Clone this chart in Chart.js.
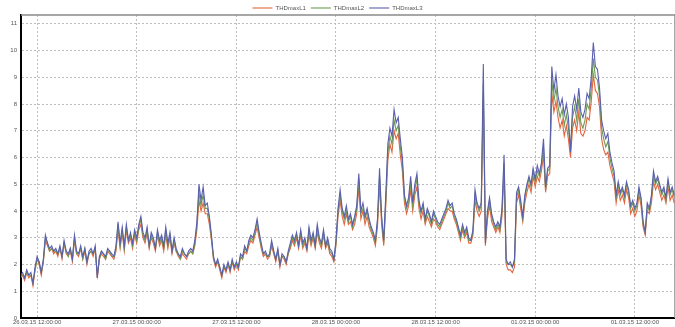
<!DOCTYPE html>
<html>
<head>
<meta charset="utf-8">
<script src="https://cdn.jsdelivr.net/npm/chart.js@4/dist/chart.umd.min.js"></script>
<style>
  html, body { margin: 0; padding: 0; background: #fff; }
  canvas { display: block; }
</style>
</head>
<body>
<canvas id="thd" width="675" height="327"></canvas>
<script>
// THD max per phase, sampled every 15 minutes from 26.03 10:00
const startHour = 10;
const stepHours = 0.25;

const thdL1 = [
  1.5,1.6,1.4,1.7,1.5,1.6,1.2,1.8,2.2,2.0,
  1.6,2.1,2.9,2.7,2.5,2.6,2.4,2.5,2.3,2.6,
  2.2,2.8,2.4,2.3,2.5,2.1,2.9,2.4,2.3,2.6,
  2.2,2.5,2.0,2.4,2.5,2.3,2.6,1.5,2.2,2.4,
  2.3,2.2,2.5,2.4,2.3,2.2,2.5,3.3,2.6,3.2,
  2.5,3.3,2.8,3.0,2.6,3.1,2.8,3.3,3.5,3.0,
  2.8,3.2,2.6,3.0,2.8,2.5,3.1,2.7,2.9,2.5,
  3.1,2.6,3.0,2.4,2.8,2.5,2.3,2.2,2.4,2.3,
  2.2,2.4,2.5,2.4,2.7,3.3,4.4,4.0,4.3,3.9,
  3.9,3.5,2.9,2.2,1.9,2.1,1.8,1.5,1.9,1.7,
  2.0,1.7,2.1,1.8,2.0,1.8,2.3,2.2,2.5,2.4,
  2.7,2.9,2.8,3.1,3.4,3.0,2.6,2.3,2.4,2.2,
  2.3,2.7,2.4,2.1,2.5,1.9,2.3,2.2,2.0,2.4,
  2.6,2.9,2.7,3.0,2.6,3.1,2.6,2.8,2.5,3.1,
  2.7,3.0,2.6,3.2,2.8,2.6,3.1,2.6,2.8,2.4,
  2.3,2.1,2.7,3.8,4.4,3.8,3.5,3.9,3.5,3.6,
  3.3,3.5,3.9,4.9,3.7,4.0,3.5,3.8,3.4,3.2,
  3.0,2.7,3.4,5.0,3.5,2.7,4.2,5.9,6.5,6.2,
  7.0,6.7,6.9,6.1,5.5,4.3,3.9,4.2,4.8,4.0,
  4.6,4.9,4.1,3.7,4.0,3.5,3.8,3.6,3.4,3.7,
  3.6,3.4,3.3,3.5,3.7,3.9,4.1,4.0,4.0,3.7,
  3.5,3.2,2.9,3.3,3.0,3.2,2.8,2.8,3.1,4.4,
  4.0,3.8,4.0,8.2,2.7,3.7,4.2,3.6,3.4,3.2,
  3.4,3.2,3.8,5.5,2.0,1.8,1.8,1.7,1.9,4.3,
  4.6,4.1,3.6,4.3,4.7,5.0,4.7,5.3,4.9,5.3,
  5.1,5.5,6.1,4.7,5.3,5.4,8.4,7.7,8.1,7.5,
  7.1,7.4,6.8,7.2,6.7,6.0,7.1,7.4,7.0,7.7,
  6.9,6.8,7.0,7.5,7.4,8.1,9.1,8.5,8.4,7.9,
  6.7,6.3,6.1,6.2,5.7,5.4,5.1,4.3,4.8,4.4,
  4.6,4.3,4.8,4.5,3.9,4.1,3.8,4.0,4.6,4.2,
  3.4,3.1,4.0,3.9,4.3,5.1,4.8,5.0,4.7,4.4,
  4.6,4.3,4.9,4.4,4.6,4.3
];

const thdL2 = [
  1.6,1.6,1.5,1.7,1.6,1.6,1.3,1.8,2.2,2.1,
  1.7,2.1,3.0,2.8,2.5,2.6,2.5,2.5,2.4,2.6,
  2.3,2.8,2.5,2.3,2.6,2.2,3.0,2.4,2.4,2.6,
  2.2,2.6,2.1,2.4,2.5,2.4,2.6,1.6,2.2,2.5,
  2.4,2.2,2.5,2.5,2.3,2.3,2.6,3.5,2.7,3.3,
  2.6,3.4,2.9,3.1,2.7,3.2,2.9,3.4,3.7,3.1,
  2.9,3.3,2.7,3.1,2.9,2.6,3.2,2.8,3.0,2.6,
  3.3,2.7,3.1,2.5,2.9,2.5,2.4,2.2,2.5,2.4,
  2.3,2.4,2.5,2.4,2.8,3.5,4.7,4.2,4.6,4.1,
  4.1,3.7,3.0,2.2,2.0,2.1,1.9,1.6,1.9,1.8,
  2.0,1.8,2.1,1.9,2.0,1.9,2.3,2.2,2.6,2.5,
  2.8,3.0,2.9,3.2,3.6,3.1,2.7,2.4,2.4,2.3,
  2.3,2.8,2.5,2.2,2.5,2.0,2.3,2.3,2.1,2.4,
  2.7,3.0,2.8,3.1,2.7,3.2,2.7,2.9,2.6,3.3,
  2.8,3.1,2.7,3.4,2.9,2.7,3.2,2.7,2.9,2.5,
  2.4,2.2,2.8,4.0,4.6,4.0,3.7,4.0,3.6,3.8,
  3.4,3.7,4.1,5.2,3.9,4.1,3.7,4.0,3.6,3.3,
  3.1,2.8,3.6,5.3,3.7,2.8,4.4,6.2,6.8,6.5,
  7.4,7.0,7.2,6.4,5.8,4.5,4.1,4.3,5.1,4.2,
  4.8,5.2,4.3,3.9,4.2,3.6,4.0,3.8,3.5,3.9,
  3.7,3.5,3.4,3.6,3.8,4.0,4.3,4.1,4.2,3.8,
  3.6,3.3,3.0,3.4,3.1,3.3,2.9,2.9,3.2,4.6,
  4.2,4.0,4.2,8.8,2.9,3.9,4.4,3.8,3.5,3.3,
  3.5,3.3,4.0,5.8,2.1,2.0,2.0,1.9,2.1,4.5,
  4.8,4.3,3.7,4.5,4.9,5.2,4.9,5.5,5.1,5.5,
  5.3,5.7,6.4,4.8,5.5,5.6,8.9,8.1,8.6,7.9,
  7.5,7.8,7.2,7.6,7.1,6.3,7.5,7.9,7.4,8.2,
  7.3,7.1,7.4,8.0,7.8,8.6,9.7,9.0,8.9,8.3,
  7.1,6.7,6.4,6.6,6.0,5.6,5.3,4.5,5.0,4.6,
  4.8,4.5,5.0,4.7,4.1,4.3,4.0,4.2,4.8,4.4,
  3.5,3.2,4.2,4.0,4.5,5.3,5.0,5.2,4.9,4.6,
  4.8,4.4,5.1,4.6,4.8,4.5
];

const thdL3 = [
  1.6,1.7,1.5,1.8,1.6,1.7,1.3,1.9,2.3,2.1,
  1.7,2.2,3.1,2.8,2.6,2.7,2.5,2.6,2.4,2.7,
  2.3,2.9,2.5,2.4,2.6,2.2,3.1,2.5,2.4,2.7,
  2.3,2.6,2.1,2.5,2.6,2.4,2.7,1.5,2.3,2.5,
  2.4,2.3,2.6,2.5,2.4,2.3,2.7,3.6,2.8,3.4,
  2.7,3.5,2.9,3.2,2.8,3.3,3.0,3.5,3.8,3.2,
  3.0,3.4,2.7,3.2,3.0,2.6,3.3,2.9,3.1,2.7,
  3.4,2.8,3.2,2.5,3.0,2.6,2.4,2.3,2.6,2.4,
  2.3,2.5,2.6,2.5,2.9,3.6,5.0,4.4,4.9,4.2,
  4.3,3.8,3.1,2.3,2.0,2.2,1.9,1.6,2.0,1.8,
  2.1,1.8,2.2,1.9,2.1,1.9,2.4,2.3,2.7,2.5,
  2.9,3.1,3.0,3.3,3.7,3.2,2.8,2.4,2.5,2.3,
  2.4,2.9,2.5,2.2,2.6,2.0,2.4,2.3,2.1,2.5,
  2.8,3.1,2.9,3.2,2.7,3.3,2.8,3.0,2.6,3.4,
  2.9,3.2,2.7,3.5,3.0,2.8,3.3,2.7,3.0,2.6,
  2.5,2.2,2.9,4.1,4.8,4.1,3.8,4.2,3.7,3.9,
  3.5,3.8,4.2,5.4,4.0,4.3,3.8,4.1,3.7,3.4,
  3.2,2.9,3.7,5.6,3.8,2.9,4.6,6.5,7.1,6.8,
  7.8,7.3,7.5,6.7,6.0,4.6,4.2,4.5,5.3,4.3,
  5.0,5.4,4.4,4.0,4.3,3.7,4.1,3.9,3.6,4.0,
  3.8,3.6,3.5,3.7,3.9,4.1,4.4,4.2,4.3,3.9,
  3.7,3.4,3.1,3.5,3.2,3.4,3.0,2.9,3.3,4.8,
  4.3,4.1,4.3,9.5,2.8,4.0,4.5,3.9,3.6,3.4,
  3.6,3.4,4.1,6.1,2.2,2.0,2.1,1.9,2.2,4.7,
  4.9,4.4,3.8,4.6,5.0,5.3,5.0,5.6,5.2,5.7,
  5.4,5.8,6.7,4.9,5.6,5.7,9.4,8.5,9.1,8.3,
  7.9,8.2,7.6,8.0,7.5,6.2,7.9,8.3,7.8,8.6,
  7.7,7.5,7.8,8.4,8.2,9.0,10.3,9.4,9.3,8.6,
  7.4,7.0,6.7,6.9,6.2,5.8,5.5,4.6,5.1,4.7,
  4.9,4.6,5.1,4.8,4.2,4.4,4.1,4.3,4.9,4.5,
  3.6,3.2,4.3,4.1,4.6,5.5,5.1,5.3,5.0,4.7,
  4.9,4.5,5.2,4.7,4.9,4.6
];

// x tick labels, one every 12 h starting at 26.03 12:00
const tickHours = [12, 24, 36, 48, 60, 72, 84];
const tickLabels = [
  '26.03.15 12:00:00', '27.03.15 00:00:00', '27.03.15 12:00:00',
  '28.03.15 00:00:00', '28.03.15 12:00:00', '01.03.15 00:00:00',
  '01.03.15 12:00:00'
];

const seriesNames = ['THDmaxL1', 'THDmaxL2', 'THDmaxL3'];
const seriesColors = ['#e4663f', '#6f9c55', '#5a5fae'];

const toPoints = arr => arr.map((v, i) => ({ x: startHour + i * stepHours, y: v }));

const FONT = { family: "'Liberation Sans', Arial, sans-serif", size: 6 };

// gray frame on top and right of the plot area
const frame = {
  id: 'frame',
  beforeDatasetsDraw(chart) {
    const { ctx, chartArea: a } = chart;
    ctx.save();
    ctx.strokeStyle = '#8a8a8a';
    ctx.lineWidth = 1.5;
    ctx.beginPath();
    ctx.moveTo(a.left, a.top);
    ctx.lineTo(a.right, a.top);
    ctx.lineTo(a.right, a.bottom);
    ctx.stroke();
    ctx.restore();
  }
};

// keep the legend strip slim
const slimLegend = {
  id: 'slimLegend',
  afterInit(chart) {
    const lg = chart.legend;
    const fit = lg.fit;
    lg.fit = function () {
      fit.call(this);
      this.height = 15;
    };
  }
};

new Chart(document.getElementById('thd'), {
  type: 'line',
  data: {
    datasets: [0, 1, 2].map(k => ({
      label: seriesNames[k],
      data: toPoints([thdL1, thdL2, thdL3][k]),
      borderColor: seriesColors[k],
      backgroundColor: seriesColors[k],
      borderWidth: 1.1,
      pointRadius: 0,
      tension: 0,
      order: 3 - k
    }))
  },
  options: {
    responsive: false,
    animation: false,
    devicePixelRatio: 1,
    layout: { padding: 0 },
    plugins: {
      legend: {
        position: 'top',
        reverse: true,
        labels: {
          font: FONT,
          color: '#555',
          usePointStyle: true,
          pointStyle: 'line',
          pointStyleWidth: 20,
          padding: 5
        }
      },
      tooltip: { enabled: false }
    },
    scales: {
      x: {
        type: 'linear',
        min: 10.06,
        max: 88.84,
        afterFit: s => { s.height = 9; },
        afterBuildTicks: s => { s.ticks = tickHours.map(v => ({ value: v })); },
        ticks: {
          font: FONT,
          color: '#555',
          padding: 1,
          maxRotation: 0,
          autoSkip: false,
          callback: v => tickLabels[tickHours.indexOf(v)]
        },
        grid: { color: '#bdbdbd', drawTicks: false },
        border: { color: '#000', width: 2, dash: [2, 2] }
      },
      y: {
        min: 0,
        max: 11.33,
        afterFit: s => { s.width = 21; },
        ticks: {
          stepSize: 1,
          includeBounds: false,
          font: FONT,
          color: '#555',
          padding: 4
        },
        grid: { color: '#bdbdbd', drawTicks: false },
        border: { color: '#000', width: 2, dash: [2, 2] }
      }
    }
  },
  plugins: [frame, slimLegend]
});
</script>
</body>
</html>
